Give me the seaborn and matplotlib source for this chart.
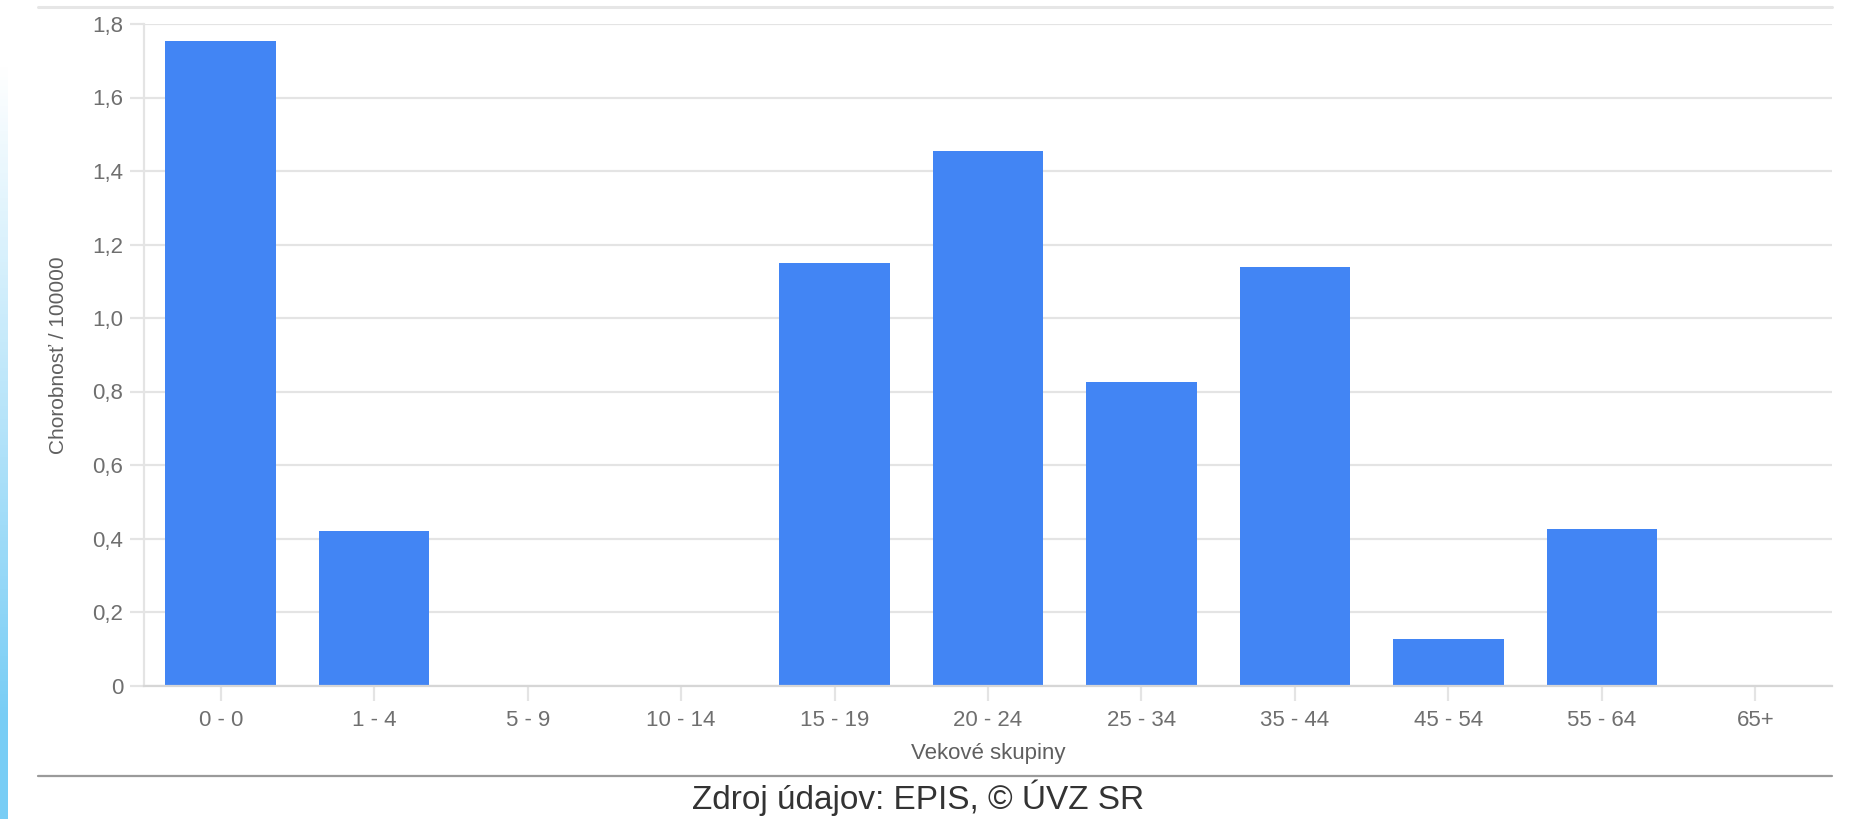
import numpy as np
import matplotlib
matplotlib.use("Agg")
import matplotlib.pyplot as plt
import seaborn as sns
from matplotlib.lines import Line2D

# Age groups and incidence per 100 000 inhabitants
age_groups = ["0 - 0", "1 - 4", "5 - 9", "10 - 14", "15 - 19", "20 - 24",
              "25 - 34", "35 - 44", "45 - 54", "55 - 64", "65+"]
incidence = [1.754, 0.421, 0.0, 0.0, 1.150, 1.454, 0.827, 1.140, 0.126, 0.426, 0.0]
y_ticks = [0.0, 0.2, 0.4, 0.6, 0.8, 1.0, 1.2, 1.4, 1.6, 1.8]

x_title = "Vekové skupiny"
y_title = "Chorobnosť / 100000"
source_note = "Zdroj údajov: EPIS, © ÚVZ SR"

sns.set_theme(style="white")
plt.rcParams["font.family"] = ["Liberation Sans", "DejaVu Sans"]

W, H = 1854, 819
fig = plt.figure(figsize=(W / 100, H / 100), dpi=100)
fig.patch.set_facecolor("white")

# light blue gradient strip along the left edge of the slide
strip = fig.add_axes([0, 0, 8 / W, 1])
grad = np.linspace(0, 1, 256).reshape(-1, 1)
top_col = np.array([1.0, 1.0, 1.0])
bot_col = np.array([120, 205, 245]) / 255
fade = np.clip((grad - 0.08) / 0.8, 0, 1)
img = top_col + (bot_col - top_col) * fade
strip.imshow(img.reshape(256, 1, 3), aspect="auto", extent=[0, 1, 0, 1],
             origin="upper")
strip.set_axis_off()

# main plot area
left, right, top, bottom = 144, 1832, 24, 685.5
ax = fig.add_axes([left / W, 1 - bottom / H, (right - left) / W, (bottom - top) / H])

sns.barplot(x=age_groups, y=incidence, color="#4285F4", saturation=1,
            width=0.72, ax=ax, edgecolor="none")

ax.set_xlim(-0.5, len(age_groups) - 0.5)
ax.set_ylim(0, 1.8)
ax.set_yticks(y_ticks)
ax.set_yticklabels(["0" if v == 0 else f"{v:.1f}".replace(".", ",") for v in y_ticks])

grid_col = "#e4e4e4"
ax.yaxis.grid(True, color=grid_col, linewidth=1.6)
ax.set_axisbelow(True)
for s in ["top", "right"]:
    ax.spines[s].set_visible(False)
ax.spines["left"].set_color(grid_col)
ax.spines["left"].set_linewidth(1.6)
ax.spines["bottom"].set_color("#d6d6d6")
ax.spines["bottom"].set_linewidth(1.6)

ax.tick_params(axis="y", length=10, width=1.6, color=grid_col, pad=5,
               labelsize=16, labelcolor="#6f6f6f", left=True)
ax.tick_params(axis="x", length=11, width=1.6, color=grid_col, pad=7,
               labelsize=16, labelcolor="#6f6f6f", bottom=True)
ax.set_xlabel("")
ax.set_ylabel("")

fig.text(59 / W, 1 - 355 / H, y_title, rotation=90, ha="center", va="center",
         fontsize=15, color="#5f5f5f")
fig.text(988 / W, 1 - 753 / H, x_title, ha="center", va="center",
         fontsize=16, color="#5f5f5f")

# separator lines of the slide frame
fig.add_artist(Line2D([38 / W, 1832 / W], [1 - 7 / H, 1 - 7 / H],
                      color="#e6e6e6", linewidth=2.2))
fig.add_artist(Line2D([38 / W, 1832 / W], [1 - 776 / H, 1 - 776 / H],
                      color="#9a9a9a", linewidth=1.6))

fig.text(918 / W, 1 - 798 / H, source_note, ha="center", va="center",
         fontsize=24, color="#333333")

fig.savefig("out.png", dpi=100, facecolor="white")
